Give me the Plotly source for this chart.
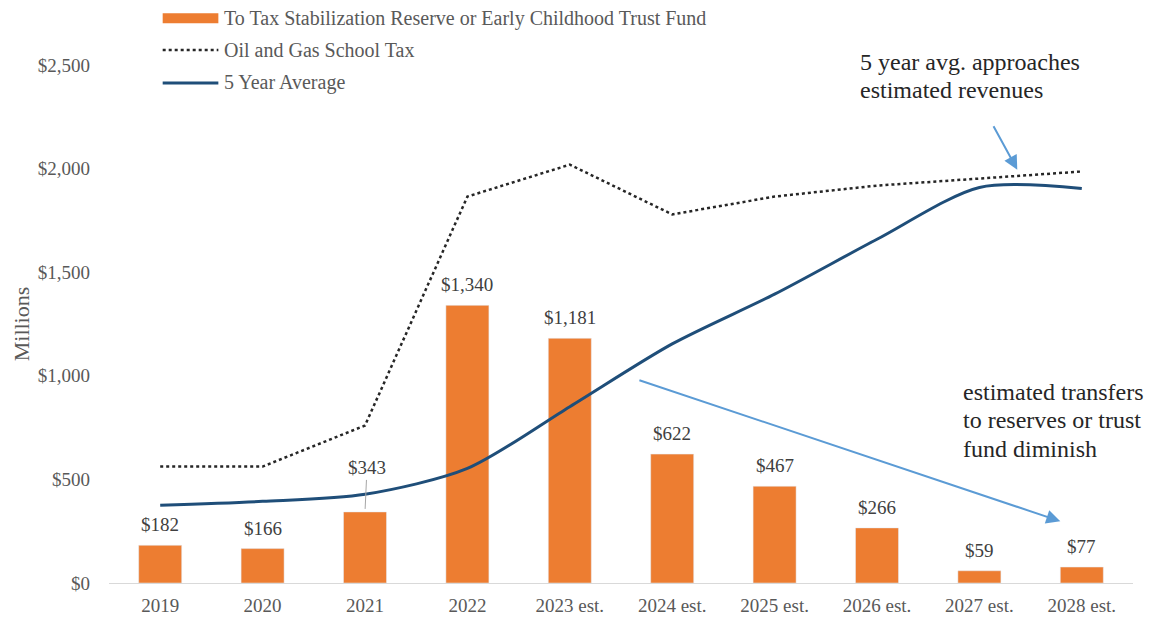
import plotly.graph_objects as go

categories = ["2019", "2020", "2021", "2022", "2023 est.", "2024 est.",
              "2025 est.", "2026 est.", "2027 est.", "2028 est."]
transfers = [182, 166, 343, 1340, 1181, 622, 467, 266, 59, 77]
oil_gas_tax = [562, 562, 760, 1865, 2019, 1779, 1865, 1918, 1952, 1986]
five_year_avg = [375, 394, 428, 553, 851, 1154, 1394, 1659, 1909, 1904]
y_ticks = [0, 500, 1000, 1500, 2000, 2500]
y_tick_labels = ["$0", "$500", "$1,000", "$1,500", "$2,000", "$2,500"]

FONT = "Liberation Serif"
ORANGE = "#ED7D31"
NAVY = "#1F4E79"
LIGHTBLUE = "#5B9BD5"
GRAY = "#595959"
LABEL = "#404040"
DARK = "#262626"

bar_labels = [f"${v:,}" for v in transfers]

fig = go.Figure()
fig.add_trace(go.Bar(
    x=categories, y=transfers, marker_color=ORANGE, width=0.42,
    name="To Tax Stabilization Reserve or Early Childhood Trust Fund",
    showlegend=False,
))
fig.add_trace(go.Scatter(
    x=categories, y=oil_gas_tax, mode="lines",
    line=dict(color=DARK, width=2.5, dash="dot"),
    name="Oil and Gas School Tax", showlegend=False,
))
fig.add_trace(go.Scatter(
    x=categories, y=five_year_avg, mode="lines",
    line=dict(color=NAVY, width=3, shape="spline", smoothing=0.8),
    name="5 Year Average", showlegend=False,
))

W, H = 1153, 620
OFF = 8  # page body margin offset
L, R, T, B = 95, 28, 57, 43
PW, PH = W - L - R, H - T - B


def px_x(x):
    return (x - OFF - L) / PW


def px_y(y):
    return 1 - (y - OFF - T) / PH


annotations = []
# bar data labels
for i, (v, lab) in enumerate(zip(transfers, bar_labels)):
    if categories[i] == "2021":
        annotations.append(dict(
            x=i, y=v, xref="x", yref="y", text=lab,
            showarrow=True, arrowhead=0, arrowwidth=1, arrowcolor="#A6A6A6",
            ax=2, ay=-44, standoff=3,
            font=dict(family=FONT, size=19, color=LABEL),
        ))
    else:
        annotations.append(dict(
            x=i, y=v, xref="x", yref="y", text=lab, showarrow=False,
            yanchor="bottom", yshift=8,
            font=dict(family=FONT, size=19, color=LABEL),
        ))

# callout arrows (positions in category index / value space)
annotations.append(dict(
    x=8.37, y=1995, xref="x", yref="y", axref="x", ayref="y",
    ax=8.13, ay=2212, text="", showarrow=True, arrowhead=2,
    arrowsize=1.4, arrowwidth=2, arrowcolor=LIGHTBLUE,
))
annotations.append(dict(
    x=8.79, y=298, xref="x", yref="y", axref="x", ayref="y",
    ax=4.665, ay=981, text="", showarrow=True, arrowhead=2,
    arrowsize=1.4, arrowwidth=2, arrowcolor=LIGHTBLUE,
))

callout_1 = ["5 year avg. approaches", "estimated revenues"]
callout_2 = ["estimated transfers", "to reserves or trust", "fund diminish"]
for k, line in enumerate(callout_1):
    annotations.append(dict(
        x=px_x(856), y=px_y(62 + 28.5 * k), xref="paper", yref="paper",
        xanchor="left", yanchor="middle", showarrow=False, text=line,
        font=dict(family=FONT, size=24, color=DARK),
    ))
for k, line in enumerate(callout_2):
    annotations.append(dict(
        x=px_x(960), y=px_y(393 + 28.5 * k), xref="paper", yref="paper",
        xanchor="left", yanchor="middle", showarrow=False, text=line,
        font=dict(family=FONT, size=24, color=DARK),
    ))

legend_items = [
    ("To Tax Stabilization Reserve or Early Childhood Trust Fund", 18),
    ("Oil and Gas School Tax", 50),
    ("5 Year Average", 83),
]
shapes = []
for label, ypix in legend_items:
    annotations.append(dict(
        x=px_x(217), y=px_y(ypix), xref="paper", yref="paper",
        xanchor="left", yanchor="middle", showarrow=False, text=label,
        font=dict(family=FONT, size=20, color=GRAY),
    ))
shapes.append(dict(type="rect", xref="paper", yref="paper",
                   x0=px_x(157), x1=px_x(213), y0=px_y(23), y1=px_y(13),
                   fillcolor=ORANGE, line=dict(width=0)))
shapes.append(dict(type="line", xref="paper", yref="paper",
                   x0=px_x(157), x1=px_x(213), y0=px_y(50), y1=px_y(50),
                   line=dict(color=DARK, width=2.5, dash="dot")))
shapes.append(dict(type="line", xref="paper", yref="paper",
                   x0=px_x(157), x1=px_x(213), y0=px_y(83), y1=px_y(83),
                   line=dict(color=NAVY, width=3)))

fig.update_layout(
    width=W, height=H,
    margin=dict(l=L, r=R, t=T, b=B),
    paper_bgcolor="white", plot_bgcolor="white",
    showlegend=False,
    annotations=annotations, shapes=shapes,
    font=dict(family=FONT, color=GRAY),
)
fig.update_xaxes(
    type="category", categoryorder="array", categoryarray=categories,
    range=[-0.5, len(categories) - 0.5],
    showgrid=False, showline=True, linecolor="#D9D9D9", linewidth=1,
    ticks="", tickfont=dict(family=FONT, size=19, color=GRAY),
    ticklabelstandoff=5, zeroline=False,
)
fig.update_yaxes(
    range=[0, 2500], tickvals=y_ticks, ticktext=y_tick_labels,
    showgrid=False, zeroline=False, showline=False, ticks="",
    tickfont=dict(family=FONT, size=19, color=GRAY), ticklabelstandoff=18,
    title=dict(text="Millions", font=dict(family=FONT, size=22, color=GRAY), standoff=2),
)

fig.write_html("out.html")
